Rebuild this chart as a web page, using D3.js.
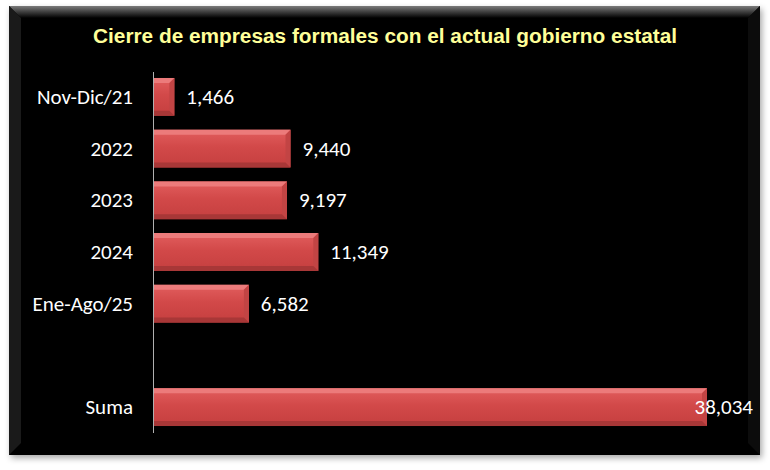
<!DOCTYPE html>
<html><head><meta charset="utf-8">
<script src="https://cdn.jsdelivr.net/npm/d3@7"></script>
<style>html,body{margin:0;padding:0;background:#fff;}</style>
</head><body>
<svg id="c" width="770" height="470"></svg>
<script>
const categories = ["Nov-Dic/21","2022","2023","2024","Ene-Ago/25","","Suma"];
const values = [1466, 9440, 9197, 11349, 6582, null, 38034];
const title = "Cierre de empresas formales con el actual gobierno estatal";

const svg = d3.select("#c");
const defs = svg.append("defs");

// frame
const fg = defs.append("linearGradient").attr("id","frameTop").attr("x1",0).attr("y1",0).attr("x2",0).attr("y2",1);
fg.append("stop").attr("offset","0%").attr("stop-color","#7a7a7a");
fg.append("stop").attr("offset","100%").attr("stop-color","#000");
const sh = defs.append("filter").attr("id","shadow").attr("x","-5%").attr("y","-5%").attr("width","110%").attr("height","115%");
sh.append("feDropShadow").attr("dx",2).attr("dy",3).attr("stdDeviation",3).attr("flood-color","#000").attr("flood-opacity",0.35);

svg.append("rect").attr("x",9).attr("y",6).attr("width",751).attr("height",449)
  .attr("fill","#050505").attr("filter","url(#shadow)");
svg.append("path").attr("d","M9,6 L760,6 L748,18 L21,18 Z").attr("fill","url(#frameTop)");
svg.append("path").attr("d","M9,6 L21,18 L21,443 L9,455 Z").attr("fill","#1a1a1a");
svg.append("path").attr("d","M760,6 L748,18 L748,443 L760,455 Z").attr("fill","#0c0c0c");

svg.append("text").attr("x",385).attr("y",43).attr("text-anchor","middle")
  .attr("font-family","'Liberation Sans Narrow','Arial Narrow',sans-serif").attr("font-weight","bold")
  .attr("font-size",20).attr("fill","#FFFF99")
  .attr("textLength",584).attr("lengthAdjust","spacingAndGlyphs").text(title);

const x = d3.scaleLinear().domain([0, 38034]).range([153, 707]);
const y = d3.scaleBand().domain(categories.map((c,i)=>i)).range([71, 433]).paddingInner(0.27).paddingOuter(0.135);

const bg = defs.append("linearGradient").attr("id","barG").attr("x1",0).attr("y1",0).attr("x2",0).attr("y2",1);
bg.append("stop").attr("offset","0%").attr("stop-color","#e25e5e");
bg.append("stop").attr("offset","45%").attr("stop-color","#d24949");
bg.append("stop").attr("offset","100%").attr("stop-color","#c53f3f");

const data = categories.map((c,i)=>({c, v: values[i], i})).filter(d=>d.v!=null);
const b = 5;
const g = svg.append("g");
data.forEach(d=>{
  const x0 = x(0), x1 = x(d.v), y0 = y(d.i), y1 = y(d.i)+y.bandwidth();
  g.append("rect").attr("x",x0).attr("y",y0).attr("width",x1-x0).attr("height",y1-y0).attr("fill","url(#barG)");
  g.append("path").attr("d",`M${x0},${y0} L${x1},${y0} L${x1-b},${y0+b} L${x0},${y0+b} Z`).attr("fill","#ec7b7b");
  g.append("path").attr("d",`M${x1},${y0} L${x1},${y1} L${x1-b},${y1-b} L${x1-b},${y0+b} Z`).attr("fill","#c24444");
  g.append("path").attr("d",`M${x0},${y1} L${x1},${y1} L${x1-b},${y1-b} L${x0},${y1-b} Z`).attr("fill","#a83737");
});

// axis line
svg.append("line").attr("x1",153.5).attr("x2",153.5).attr("y1",72).attr("y2",433).attr("stroke","#b0b0b0").attr("stroke-width",1);

const fmt = d3.format(",");
const labelFont = "Carlito, Lato, 'Open Sans', sans-serif";
const fs = 21;
// category labels
svg.append("g").selectAll("text").data(categories.map((c,i)=>({c,i}))).join("text")
  .attr("x",133).attr("y",d=>y(d.i)+y.bandwidth()/2+7).attr("text-anchor","end")
  .attr("font-family",labelFont).attr("font-size",fs).attr("fill","#fff").text(d=>d.c);

// value labels
const plotRight = 753;
svg.append("g").selectAll("text").data(data).join("text")
  .attr("y",d=>y(d.i)+y.bandwidth()/2+7)
  .attr("font-family",labelFont).attr("font-size",fs).attr("fill","#fff").text(d=>fmt(d.v))
  .each(function(d){
    const w = this.getComputedTextLength();
    d3.select(this).attr("x", Math.min(x(d.v)+12, plotRight - w));
  });
</script>
</body></html>
